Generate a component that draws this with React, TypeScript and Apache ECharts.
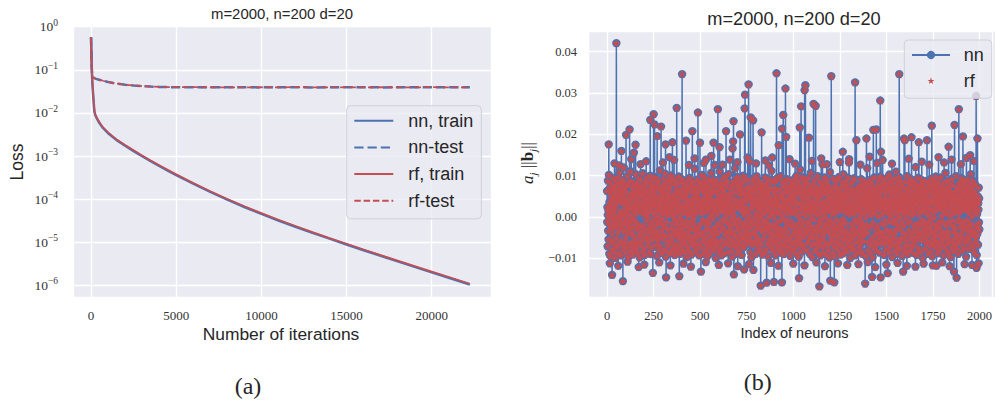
import React, { useEffect, useRef } from "react";
import * as echarts from "echarts";

// ---------- (a) loss curves ----------
const lossIters = [0, 15, 35, 60, 90, 130, 170, 200, 260, 330, 420, 520, 700, 1000, 1500, 2000, 2500, 3000, 3500, 4000, 4500, 5000, 6000, 7000, 8000, 9000, 10000, 11000, 12000, 13000, 14000, 15000, 16000, 17000, 18000, 19000, 20000, 21000, 22240];
const nnTrainLoss = [0.567, 0.3, 0.13, 0.07, 0.04, 0.024, 0.0145, 0.0105, 0.0087, 0.0076, 0.0065, 0.0056, 0.00447, 0.00339, 0.00234, 0.001738, 0.001303, 0.000989, 0.000759, 0.000589, 0.00046, 0.000361, 0.000228, 0.000147, 0.0000972, 0.0000657, 0.0000455, 0.000032, 0.0000229, 0.0000165, 0.0000121, 0.00000886, 0.00000654, 0.00000485, 0.0000036, 0.00000268, 0.000002, 0.0000015, 0.00000105];
const rfTrainLoss = [0.567, 0.31, 0.135, 0.073, 0.0416, 0.025, 0.0151, 0.0109, 0.00905, 0.0079, 0.00676, 0.00582, 0.00465, 0.00353, 0.00243, 0.001808, 0.001355, 0.001028, 0.000789, 0.000612, 0.000478, 0.000375, 0.000237, 0.000153, 0.000101, 0.0000683, 0.0000473, 0.0000333, 0.0000238, 0.0000172, 0.0000125, 0.00000921, 0.0000068, 0.00000504, 0.00000375, 0.00000279, 0.00000208, 0.00000156, 0.00000109];
const nnTestLoss = [0.567, 0.3, 0.13, 0.075, 0.069, 0.0665, 0.0648, 0.0638, 0.0625, 0.0611, 0.0596, 0.0582, 0.0556, 0.0522, 0.0478, 0.0451, 0.0432, 0.0418, 0.0408, 0.0401, 0.0397, 0.0395, 0.0393, 0.0396, 0.0392, 0.0394, 0.0391, 0.0395, 0.0393, 0.039, 0.0394, 0.0392, 0.0395, 0.0391, 0.0393, 0.0396, 0.0392, 0.0394, 0.0393];
const rfTestLoss = [0.567, 0.31, 0.135, 0.076, 0.0695, 0.0668, 0.065, 0.064, 0.0627, 0.0613, 0.0598, 0.0584, 0.0558, 0.0524, 0.048, 0.0452, 0.0433, 0.0419, 0.0409, 0.0402, 0.0398, 0.0394, 0.0395, 0.0392, 0.0394, 0.0391, 0.0394, 0.0392, 0.0396, 0.0392, 0.0391, 0.0395, 0.0392, 0.0394, 0.0391, 0.0393, 0.0395, 0.0392, 0.0394];

// ---------- (b) a_j ||b_j|| per neuron, units of 1e-4 ----------
const bandA = [
63, -12, 24, -71, 5, 88, -33, 17, -54, 41, 102, -8, -89, 36, 12, -47, 71, -21, 57, -95,
28, -3, 80, -62, 45, -28, 9, 115, -41, 66, -77, 19, 3, -58, 94, -16, 37, -84, 52, 14,
-39, 73, -6, 25, -99, 48, 61, -25, 86, -66, 10, -51, 33, 79, -14, -72, 43, 2, 97, -37,
21, -88, 55, 68, -19, 39, -45, 108, -2, 16, -64, 84, -31, 47, 7, -93, 59, 27, -56, 74,
-10, 34, -79, 90, 11, -43, 65, -22, 50, -68, 120, 4, -35, 82, -60, 29, -15, 44, 70, -86,
18, -48, 92, -5, 38, -73, 60, 13, -29, 99, -53, 23, 77, -9, -97, 46, 31, -40, 85, -18,
6, 67, -63, 42, -26, 111, -82, 20, 53, -11, 35, -70, 87, -36, 0, 58, -91, 26, 72, -44,
49, -24, 15, -59, 96, 32, -80, 62, -7, 40, -52, 78, 8, -34, 104, -66, 22, 56, -13, -75,
81, -30, 45, -87, 19, 69, -17, 37, -61, 93, 1, -46, 64, -23, 30, -98, 54, 12, -38, 76,
-4, 51, -69, 27, 89, -42, 14, -57, 71, 36, -20, 106, -83, 47, 9, -32, 63, -76, 24, 58,
-15, 39, -92, 74, 3, -49, 83, -27, 17, 61, -65, 43, -8, 95, -54, 28, 10, -71, 50, -1,
86, -37, 21, -62, 57, 33, -85, 68, -18, 41, -47, 100, 5, -28, 75, -90, 34, 16, -55, 65,
25, -11, 79, -73, 44, -39, 12, 91, -24, 53, -60, 7, 70, -33, 38, -81, 60, -6, 29, -50,
97, -21, 46, -67, 13, 80, -43, 23, -94, 59, 31, -14, 72, -58, 2, 88, -36, 48, -78, 19,
-26, 66, -45, 35, 113, -9, 52, -70, 27, -16, 84, -52, 40, 11, -87, 62, -30, 77, -3, 45,
-63, 18, 93, -41, 56, -19, 30, -77, 69, 8, -48, 105, -25, 37, 64, -96, 15, -35, 82, 26,
-58, 49, -12, 73, -84, 22, 58, -31, 42, -69, 90, 4, -44, 67, 17, -22, 53, -88, 33, 76,
-7, 39, -61, 101, -27, 14, 85, -53, 28, 47, -80, 63, -15, 21, -40, 94, 6, -72, 51, -34,
71, -2, 36, -92, 60, 25, -46, 78, -17, 44, -64, 10, 87, -38, 55, -10, -83, 32, 68, -29,
13, 57, -75, 43, -20, 98, -50, 20, 74, -42, 35, -89, 61, 1, -32, 83, -56, 27, -5, 49,
-68, 92, -13, 38, -79, 54, 16, -26, 70, -47, 108, -37, 24, -60, 81, 9, -41, 46, -86, 31,
64, -23, 52, -66, 18, 77, -9, 34, -97, 59, 22, -51, 89, -19, 40, -74, 12, 67, -35, 3,
48, -82, 29, 95, -44, 11, -57, 72, 37, -28, 56, -12, -91, 43, 80, -63, 19, 62, -39, 26,
-16, 86, -54, 33, 7, -70, 50, -3, 75, -45, 28, 117, -30, 15, -85, 65, -21, 41, -62, 55,
10, -34, 69, -78, 23, 91, -48, 39, -8, 58, -67, 32, 84, -25, 45, -93, 21, 73, -43, 17,
];
const bandB = [
-44, 27, 81, -15, 53, -72, 9, 66, -38, 102, -59, 18, 44, -90, 71, -6, 35, -51, 87, 12,
-27, 60, -83, 24, 96, -33, 47, -11, 78, -64, 5, 139, -46, 30, -77, 55, 14, -20, 68, -95,
39, -8, 74, -56, 21, 90, -29, 52, -68, 33, -13, 83, -87, 46, 2, -41, 65, 28, -61, 107,
-18, 43, -74, 58, 10, -36, 92, -52, 25, 70, -3, -80, 49, 16, -65, 85, -24, 37, 126, -45,
61, -31, 19, -99, 79, 34, -57, 13, 89, -22, 42, -71, 6, 63, -40, 97, -14, 54, -84, 26,
4, -62, 76, 31, -48, 110, -19, 45, -78, 20, 67, -34, 51, -93, 15, 82, -55, 38, -7, 72,
-50, 29, 94, -26, 57, -69, 11, 41, -88, 64, -10, 35, 80, -43, 23, -60, 99, -1, 48, -76,
32, 75, -37, 17, -63, 88, -16, 50, -85, 27, 62, -47, 8, 104, -30, 44, -70, 19, 56, -12,
91, -53, 36, -21, 69, -82, 14, 47, -39, 77, -5, 25, -96, 59, 40, -58, 84, -28, 13, 66,
-35, 52, -66, 3, 86, -44, 30, 118, -17, 43, -75, 61, -9, 38, -89, 73, 21, -52, 97, -23,
15, -70, 48, 81, -31, 26, -62, 93, -4, 55, -46, 34, 70, -81, 9, 63, -37, 28, -14, 79,
-56, 41, 18, -92, 67, 35, -25, 85, -49, 12, 58, -68, 100, -20, 46, -73, 31, 6, -42, 74,
22, -86, 57, -11, 39, 89, -54, 24, -33, 71, -64, 16, 53, -28, 92, -79, 44, -3, 61, -39,
83, -19, 29, -58, 7, 75, -47, 135, -24, 50, -85, 37, 64, -13, 20, -98, 56, 33, -67, 42,
-8, 68, -41, 87, -74, 25, 14, -36, 94, -57, 40, -18, 76, -62, 3, 49, -90, 65, 27, -30,
54, -45, 12, 99, -22, 60, -71, 36, -6, 82, -50, 23, 43, -84, 70, -15, 31, -59, 88, 5,
-27, 47, -79, 19, 72, -40, 58, -2, 34, -66, 105, -33, 11, 63, -91, 45, -17, 80, -53, 28,
38, -12, 66, -87, 51, 9, -43, 77, -29, 96, -61, 18, 48, -7, -78, 59, 26, -48, 73, -21,
-64, 30, 85, -34, 17, 62, -95, 41, -16, 54, 79, -55, 2, 37, -70, 91, -26, 14, 69, -45,
20, -58, 44, 112, -38, 26, -73, 57, 8, -20, 84, -49, 32, -82, 61, 15, -11, 46, -63, 90,
-3, 71, -28, 36, -93, 53, 24, -60, 87, -42, 19, 64, -15, 40, -76, 10, 95, -35, 29, -52,
60, -24, 77, -69, 13, 45, -86, 30, 68, -9, 52, -44, 99, -31, 22, -65, 48, 4, -80, 35,
-18, 86, -51, 25, 57, -37, 11, 74, -90, 42, -5, 31, -67, 81, 16, -27, 62, -58, 120, 39,
-71, 20, 50, -13, 92, -46, 34, -83, 59, 7, -34, 70, 27, -56, 44, -19, 89, -74, 15, 55,
-40, 67, -8, 38, -94, 76, 21, -50, 46, 13, -62, 85, -23, 52, -81, 33, 9, -42, 71, -14,
];
const bandC = [
29, -66, 83, -20, 48, 12, -77, 61, -35, 94, -9, 40, -58, 26, 74, -88, 17, 55, -43, 101,
-25, 37, -71, 66, 5, -49, 88, -14, 31, -96, 59, 22, -32, 78, -61, 45, -4, 115, -54, 19,
70, -39, 14, -84, 52, 36, -18, 97, -67, 27, 63, -28, 8, -73, 43, 86, -47, 24, -11, 57,
-92, 33, 76, -41, 18, -59, 92, 3, -26, 68, -80, 47, 15, -37, 83, -63, 30, 60, -16, 41,
-55, 95, -12, 50, -75, 21, 65, -30, 38, -89, 10, 73, -45, 28, 107, -22, 54, -69, 35, -2,
81, -51, 23, -97, 62, 16, -38, 79, -6, 44, -64, 31, 90, -27, 11, -82, 49, 69, -33, 25,
-13, 58, -76, 39, 85, -48, 20, -61, 72, 4, -21, 99, -36, 46, -87, 30, 64, -10, 53, -70,
42, 9, -57, 87, -31, 26, -93, 67, -17, 51, 34, -68, 80, -3, 37, -52, 18, 128, -43, 61,
-29, 73, -85, 32, 13, -40, 59, -72, 96, -23, 47, 2, -60, 84, 29, -15, 68, -90, 41, 22,
-47, 90, -5, 56, -66, 35, 78, -34, 14, -79, 63, -19, 45, 25, -98, 71, -41, 109, -8, 38,
17, -62, 49, -24, 82, -53, 27, 66, -12, 40, -86, 58, 7, -44, 93, -28, 33, -71, 55, 10,
64, -36, 21, -95, 75, 43, -18, 86, -59, 30, 12, -74, 52, -6, 69, -47, 37, 91, -31, -63,
5, 46, -81, 61, -26, 18, 97, -42, 34, -65, 79, -13, 24, -91, 57, 39, -52, 15, 72, -37,
50, -20, 84, -69, 28, -4, 63, -88, 42, 104, -30, 19, -56, 74, -9, 47, -77, 32, 60, -45,
-16, 78, -50, 11, 89, -33, 55, -84, 23, 67, -25, 41, -62, 8, 95, -39, 26, -71, 44, 132,
36, -58, 16, 70, -43, 27, -99, 59, 6, -17, 81, -54, 33, 48, -80, 13, 65, -29, 20, -67,
87, -22, 53, -76, 31, 9, -46, 94, -34, 62, -11, 29, 75, -93, 40, -5, 56, -61, 18, 83,
-40, 25, 68, -14, 44, -85, 71, 37, -57, 15, 100, -27, 51, -73, 22, 61, -35, 3, 79, -49,
58, -7, 35, -64, 92, -20, 12, -83, 47, 76, -41, 30, -15, 66, -90, 38, 54, -24, 10, -58,
73, -45, 29, 86, -32, 19, -70, 62, -1, 43, -94, 57, 34, -53, 81, -18, 26, 118, -38, 49,
-11, 65, -79, 42, 14, -61, 77, -26, 36, 55, -48, 21, 90, -66, 4, 32, -87, 68, -19, 51,
28, -52, 83, -37, 60, 18, -98, 46, -13, 71, -30, 12, 63, -75, 39, 96, -44, 23, -60, 7,
85, -28, 47, -69, 24, 56, -9, 34, -82, 66, 15, -40, 76, -21, 53, -63, 2, 89, -51, 31,
-33, 40, 72, -86, 19, 59, -42, 11, 98, -24, 44, -71, 30, 67, -15, 22, -57, 81, 6, -39,
54, -65, 26, 91, -47, 37, -18, 64, -92, 13, 78, -35, 49, -7, 29, -80, 61, 20, -53, 44,
];
const bandD = [
-21, 76, -48, 32, 95, -63, 17, 54, -30, 83, -77, 10, 42, -55, 68, -12, 103, -39, 26, -86,
60, 3, -70, 45, 21, -35, 89, -58, 14, 72, -24, 38, -97, 63, 29, -46, 80, -8, 51, -67,
34, -15, 93, -52, 7, 66, -41, 25, -81, 57, 40, -29, 110, -64, 19, 47, -5, -89, 74, 28,
-43, 62, -19, 85, -72, 36, 12, -56, 97, -33, 50, 1, -78, 69, 23, -27, 44, -61, 87, 15,
-50, 30, 79, -11, 58, -94, 41, 18, -37, 73, -66, 27, 55, -20, 9, 91, -49, 35, -74, 64,
22, -83, 48, -3, 86, -40, 31, 67, -57, 13, -25, 99, -68, 43, 16, -90, 59, 37, -14, 70,
-60, 8, 52, -31, 81, 24, -79, 46, -9, 63, -44, 33, 92, -53, 20, -18, 75, -71, 39, 5,
88, -36, 27, -65, 49, 11, -87, 70, -22, 56, 35, -48, 14, 82, -59, 41, -4, 121, -33, 58,
-16, 44, -92, 66, 30, -52, 78, -27, 19, -73, 95, -38, 53, 6, -62, 34, 71, -13, 47, -81,
24, 60, -45, 13, -85, 77, -20, 39, 90, -56, 28, -7, 65, -34, 50, -99, 18, 84, -42, 32,
-68, 55, -10, 73, 42, -28, 15, -76, 61, 36, -51, 87, -17, 26, -63, 9, 58, -37, 100, -24,
47, -57, 21, 69, -89, 38, 5, -43, 82, -12, 54, -70, 31, 76, -23, 44, -84, 62, 17, -32,
93, -6, 40, -61, 25, 57, -95, 34, 72, -18, 46, -54, 11, 88, -39, 20, -66, 51, -1, 79,
-47, 29, 64, -75, 16, 98, -30, 43, -58, 7, 70, -21, 37, -88, 59, 24, -44, 85, -15, 52,
12, -64, 77, -26, 48, -80, 33, 61, -9, 40, -71, 19, 96, -49, 27, -35, 66, 3, -59, 45,
-82, 36, 58, -14, 71, -38, 23, -93, 53, 82, -27, 15, -52, 64, 31, -69, 42, 107, -20, 8,
67, -46, 30, -79, 87, 10, -33, 56, -65, 22, 49, -11, 74, -41, 13, -87, 60, 35, -54, 26,
-28, 81, -60, 41, 4, -97, 63, 28, -19, 92, -45, 37, 57, -73, 18, 46, -8, -62, 77, -36,
50, 14, -83, 68, -24, 33, 85, -51, 9, 61, -30, 45, -68, 21, 99, -42, 29, -16, 54, -77,
38, -12, 70, -57, 26, 47, -89, 15, 64, -35, 83, -4, 32, -63, 52, 11, -48, 78, -25, 41,
-70, 59, 20, -38, 94, -16, 43, -81, 28, 67, -53, 6, 86, -29, 35, -74, 57, 24, -10, 72,
-42, 31, 87, -64, 17, 53, -22, 40, -96, 62, 12, -47, 75, -7, 48, -58, 25, 91, -33, 19,
65, -26, 42, -77, 9, 80, -50, 34, -14, 58, -85, 27, 69, -39, 104, -19, 46, -66, 37, 1,
-55, 73, -31, 23, 88, -44, 16, -72, 51, 36, -9, 63, -84, 29, 56, -37, 13, 79, -60, 42,
27, -49, 84, -18, 61, -92, 35, 7, -41, 96, -23, 50, -67, 33, 18, -54, 71, -13, 45, -30,
];
// isolated large-magnitude neurons (index, value in 1e-4)
const spikeIndex = [9, 27, 50, 77, 85, 102, 121, 144, 153, 232, 246, 250, 255, 269, 290, 314, 317, 351, 374, 388, 403, 424, 458, 488, 499, 504, 572, 595, 604, 639, 674, 677, 679, 681, 714, 736, 739, 741, 760, 771, 784, 786, 825, 830, 857, 887, 896, 910, 922, 939, 940, 946, 958, 962, 1031, 1035, 1042, 1061, 1065, 1084, 1109, 1120, 1140, 1199, 1204, 1220, 1266, 1332, 1339, 1386, 1393, 1423, 1430, 1446, 1467, 1469, 1471, 1507, 1569, 1590, 1595, 1599, 1635, 1656, 1674, 1718, 1744, 1769, 1834, 1863, 1866, 1877, 1889, 1911, 1950, 1982, 1984, 1989];
const spikeValue = [176, -140, 421, 160, -155, 199, 212, 156, 175, 235, -135, 249, 224, 196, 219, 176, -146, 181, 264, -143, 346, 185, 208, 253, 180, -132, 180, 261, 169, 208, 166, 183, 232, -139, 200, -127, 263, 296, 321, 241, 234, -128, -166, 205, -159, 144, -157, 348, 174, -158, 214, 247, 311, 194, -148, 217, 268, 307, 319, 192, 274, 269, -168, -154, 341, -158, 158, 326, 186, -161, 190, -145, 211, 212, 282, -146, 158, -136, 346, -132, 190, 186, 193, -120, 181, 186, 221, -118, 170, -132, 223, -147, 261, 195, 150, 293, -123, 190];
// moderately high / low neurons just outside the dense band
const edgeIndex = [15, 40, 60, 66, 110, 130, 170, 180, 200, 210, 280, 300, 335, 340, 360, 410, 440, 450, 470, 520, 530, 560, 600, 620, 650, 660, 700, 702, 755, 762, 800, 850, 870, 880, 920, 980, 1000, 1010, 1060, 1100, 1124, 1150, 1170, 1180, 1240, 1250, 1290, 1300, 1350, 1360, 1400, 1410, 1440, 1450, 1480, 1500, 1530, 1560, 1610, 1620, 1690, 1700, 1730, 1750, 1780, 1800, 1810, 1840, 1850, 1900, 1920, 1930, 1960, 1970, 1995];
const edgeValue = [-112, 130, -118, 125, -108, 140, -121, 128, -115, 135, -110, 132, 145, -117, 138, -113, 126, -120, 142, 131, -109, 148, -116, 127, -112, 139, 133, -119, 144, -114, 130, 137, 125, -111, -118, 140, -113, 129, -117, 136, -110, 142, -119, 128, -112, 133, -116, 140, -114, 127, -109, 146, -121, 131, 138, -115, 129, -111, -118, 141, 134, -113, 127, -117, 145, -110, 132, -119, 139, 128, -114, 143, -116, 136, -112];

const xTicksB = [0, 250, 500, 750, 1000, 1250, 1500, 1750, 2000];

const SANS = "'Liberation Sans', Arial, 'DejaVu Sans', sans-serif";
const SERIF = "'Liberation Serif', 'DejaVu Serif', serif";
const BLUE = "#4C72B0";
const RED = "#C44E52";
const BG = "#EAEAF2";
const TXT = "#262626";
const TICK = "#333333";

const STAR = "path://M100 0L122.45 69.1L195.1 69.1L136.3 111.8L158.8 180.9L100 138.2L41.2 180.9L63.7 111.8L4.9 69.1L77.55 69.1Z";
const STAR_LEGEND = "path://M-41 -50.5L-40.9 -50.5Z M241 231.4L240.9 231.4Z M100 0L122.45 69.1L195.1 69.1L136.3 111.8L158.8 180.9L100 138.2L41.2 180.9L63.7 111.8L4.9 69.1L77.55 69.1Z";

function buildNeuronValues(): number[] {
  const vals = [...bandA, ...bandB, ...bandC, ...bandD];
  edgeIndex.forEach((idx, k) => { vals[idx] = edgeValue[k]; });
  spikeIndex.forEach((idx, k) => { vals[idx] = spikeValue[k]; });
  return vals;
}

const minus = (s: string) => s.replace("-", "\u2212");

export default function App() {
  const ref = useRef<HTMLDivElement | null>(null);
  useEffect(() => {
    if (!ref.current) return;
    const chart = echarts.init(ref.current, undefined, { renderer: "svg" });
    const neuron = buildNeuronValues();
    const nnPts = neuron.map((v, i) => [i, v / 10000]);
    const rfPts = neuron.map((v, i) => [i, v / 10000]);
    const pair = (ys: number[]) => lossIters.map((x, i) => [x, ys[i]]);

    const option: any = {
      animation: false,
      backgroundColor: "#ffffff",
      grid: [
        { left: 73, top: 26.7, width: 418, height: 270.3, show: true, backgroundColor: BG, borderWidth: 0 },
        { left: 560.5, top: 31.7, width: 434.5, height: 265.6, show: false },
      ],
      xAxis: [
        {
          type: "value", gridIndex: 0, min: -1060, max: 23480,
          axisLine: { show: false }, axisTick: { show: false },
          splitLine: { show: true, lineStyle: { color: "#ffffff", width: 1.3 } },
          axisLabel: { fontFamily: SERIF, fontSize: 13, color: TICK, margin: 12, showMinLabel: false, showMaxLabel: false, formatter: (v: number) => String(v) },
        },
        {
          type: "value", gridIndex: 1, min: -250, max: 2071, interval: 250,
          axisLine: { show: false }, axisTick: { show: false },
          splitLine: { show: true, lineStyle: { color: "#ffffff", width: 1.3 } },
          axisLabel: {
            fontFamily: SERIF, fontSize: 12.5, color: TICK, margin: 12, showMaxLabel: false,
            formatter: (v: number) => (xTicksB.indexOf(v) >= 0 ? String(v) : ""),
          },
        },
      ],
      yAxis: [
        {
          type: "log", logBase: 10, gridIndex: 0, min: 5.37e-7, max: 1,
          axisLine: { show: false }, axisTick: { show: false },
          splitLine: { show: true, lineStyle: { color: "#ffffff", width: 1.3 } },
          minorSplitLine: { show: false },
          axisLabel: {
            margin: 15, showMinLabel: false,
            formatter: (v: number) => {
              const e = Math.round(Math.log10(v));
              return "{b|10}{s|" + (e < 0 ? "\u2212" + -e : String(e)) + "}";
            },
            rich: {
              b: { fontFamily: SERIF, fontSize: 13.5, lineHeight: 18, color: TICK },
              s: { fontFamily: SERIF, fontSize: 9.5, lineHeight: 10, verticalAlign: "top", color: TICK },
            },
          },
        },
        {
          type: "value", gridIndex: 1, min: -0.01943, max: 0.04485, offset: -29,
          axisLine: { show: false }, axisTick: { show: false },
          splitLine: { show: true, lineStyle: { color: "#ffffff", width: 1.3 } },
          axisLabel: {
            fontFamily: SERIF, fontSize: 12.5, color: TICK, margin: 12.5,
            showMinLabel: false, showMaxLabel: false,
            formatter: (v: number) => minus(v.toFixed(2)),
          },
        },
      ],
      legend: [
        {
          data: ["nn, train", "nn-test", "rf, train", "rf-test"],
          orient: "vertical", left: 346.7, top: 105.7, z: 10,
          itemWidth: 39, itemHeight: 14, itemGap: 8.7,
          padding: [6, 8, 9, 6.6], selectedMode: false,
          itemStyle: { opacity: 0 },
          backgroundColor: "rgba(234,234,242,0.8)", borderColor: "#D0D0D8", borderWidth: 1, borderRadius: 4,
          textStyle: { fontFamily: SANS, fontSize: 18, color: TXT, padding: [0, 0, 0, 10] },
        },
        {
          data: ["nn", { name: "rf", icon: STAR_LEGEND }],
          orient: "vertical", left: 904.3, top: 40, z: 10,
          itemWidth: 38, itemHeight: 10.4, itemGap: 7.7,
          padding: [6, 8, 8.6, 6.7], selectedMode: false,
          backgroundColor: "rgba(234,234,242,0.8)", borderColor: "#D0D0D8", borderWidth: 1, borderRadius: 4,
          textStyle: { fontFamily: SANS, fontSize: 18, color: TXT, padding: [0, 0, 0, 8.7] },
        },
      ],
      graphic: [
        { type: "rect", z: -10, silent: true, shape: { x: 589.3, y: 31.7, width: 420, height: 265.6 }, style: { fill: BG } },
        { type: "text", x: 282, y: 14, style: { text: "m=2000, n=200 d=20", fontFamily: SANS, fontSize: 14.9, fill: TXT, align: "center", verticalAlign: "middle" } },
        { type: "text", x: 794, y: 19, style: { text: "m=2000, n=200 d=20", fontFamily: SANS, fontSize: 18.2, fill: TXT, align: "center", verticalAlign: "middle" } },
        { type: "text", x: 281, y: 334, style: { text: "Number of iterations", fontFamily: SANS, fontSize: 17.4, fill: TXT, align: "center", verticalAlign: "middle" } },
        { type: "text", x: 794.5, y: 333, style: { text: "Index of neurons", fontFamily: SANS, fontSize: 14.5, fill: TXT, align: "center", verticalAlign: "middle" } },
        { type: "text", x: 17, y: 162, rotation: Math.PI / 2, style: { text: "Loss", fontFamily: SANS, fontSize: 17.5, fill: TXT, align: "center", verticalAlign: "middle" } },
        {
          type: "text", x: 527, y: 163, rotation: Math.PI / 2,
          style: {
            text: "{a|a}{s|j}{n| ||}{b|b}{s|j}{n|||}",
            align: "center", verticalAlign: "middle",
            rich: {
              a: { fontFamily: SERIF, fontStyle: "italic", fontSize: 17, lineHeight: 22, fill: TXT, color: TXT },
              s: { fontFamily: SERIF, fontStyle: "italic", fontSize: 11, lineHeight: 12, verticalAlign: "bottom", fill: TXT, color: TXT },
              n: { fontFamily: SERIF, fontSize: 17, lineHeight: 22, fill: TXT, color: TXT },
              b: { fontFamily: SERIF, fontWeight: "bold", fontSize: 17, lineHeight: 22, fill: TXT, color: TXT },
            },
          },
        },
        { type: "text", x: 248, y: 386, style: { text: "(a)", fontFamily: SERIF, fontSize: 24, fill: TXT, align: "center", verticalAlign: "middle" } },
        { type: "text", x: 757.7, y: 382, style: { text: "(b)", fontFamily: SERIF, fontSize: 24, fill: TXT, align: "center", verticalAlign: "middle" } },
      ],
      series: [
        {
          name: "nn, train", type: "line", xAxisIndex: 0, yAxisIndex: 0, data: pair(nnTrainLoss),
          symbol: "none", showSymbol: false,
          lineStyle: { color: BLUE, width: 2.5 }, itemStyle: { color: BLUE },
        },
        {
          name: "nn-test", type: "line", xAxisIndex: 0, yAxisIndex: 0, data: pair(nnTestLoss),
          symbol: "none", showSymbol: false,
          lineStyle: { color: BLUE, width: 2.5, type: [9.25, 4] }, itemStyle: { color: BLUE },
        },
        {
          name: "rf, train", type: "line", xAxisIndex: 0, yAxisIndex: 0, data: pair(rfTrainLoss),
          symbol: "none", showSymbol: false,
          lineStyle: { color: RED, width: 1.75 }, itemStyle: { color: RED },
        },
        {
          name: "rf-test", type: "line", xAxisIndex: 0, yAxisIndex: 0, data: pair(rfTestLoss),
          symbol: "none", showSymbol: false,
          lineStyle: { color: RED, width: 1.75, type: [6.5, 2.8] }, itemStyle: { color: RED },
        },
        {
          name: "nn", type: "line", xAxisIndex: 1, yAxisIndex: 1, data: nnPts, z: 2,
          symbol: "circle", symbolSize: 8.3, showSymbol: true,
          lineStyle: { color: BLUE, width: 1.5 }, itemStyle: { color: BLUE },
        },
        {
          name: "rf", type: "scatter", xAxisIndex: 1, yAxisIndex: 1, data: rfPts, z: 5,
          symbol: STAR, symbolSize: 9, symbolKeepAspect: true, large: false, progressive: 0,
          itemStyle: { color: RED, opacity: 1 },
        },
      ],
    };
    chart.setOption(option);
    return () => chart.dispose();
  }, []);
  return <div ref={ref} style={{ position: "fixed", left: 0, top: 0, width: 995, height: 402 }} />;
}
